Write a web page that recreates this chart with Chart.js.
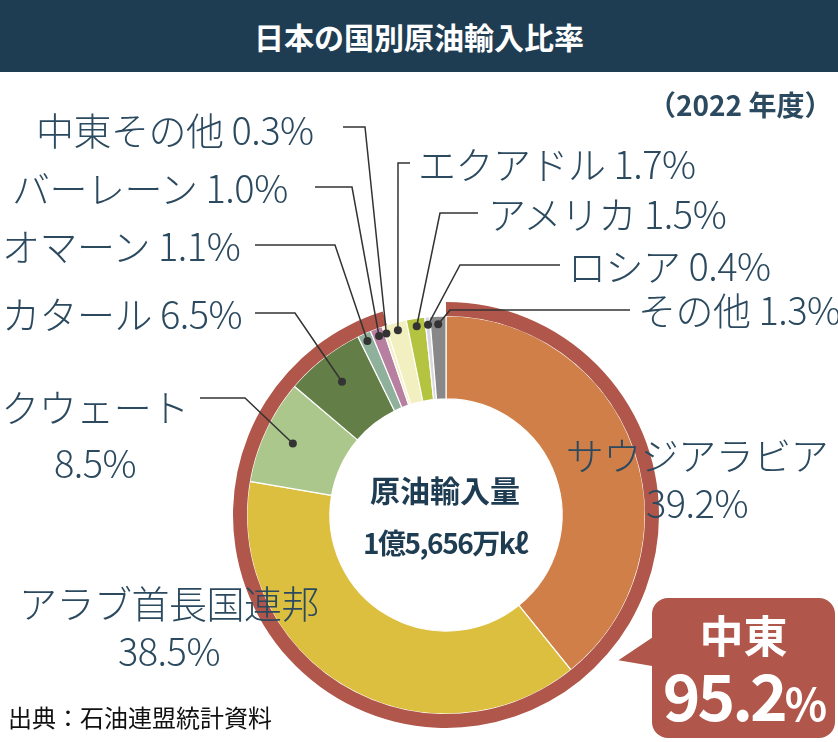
<!DOCTYPE html>
<html><head><meta charset="utf-8">
<script src="https://cdn.jsdelivr.net/npm/chart.js@4/dist/chart.umd.min.js"></script>
<style>
body{margin:0;width:838px;height:742px;position:relative;background:#fff;font-family:"Noto Sans CJK JP","Noto Sans",sans-serif;overflow:hidden}
#c{position:absolute;left:0;top:0}
.t{position:absolute;color:#2b4a5f;font-size:38px;font-weight:300;white-space:nowrap;line-height:1;letter-spacing:-0.5px}
#title{position:absolute;left:0;top:0;width:838px;height:72px;background:#1f3d52;color:#fff;font-weight:700;font-size:30px;text-align:center;line-height:72px}
#call{position:absolute;left:652px;top:598px;width:183px;height:140px;background:#b0564a;border-radius:16px;color:#fff;text-align:center;font-weight:700}
#tail{position:absolute;left:618px;top:640px;width:0;height:0;border-top:16px solid transparent;border-bottom:16px solid transparent;border-right:40px solid #b0564a;transform:rotate(-12deg)}
</style></head><body>
<canvas id="c" width="838" height="742"></canvas>
<div id="title">日本の国別原油輸入比率</div>
<div class="t" style="left:648px;top:90px;font-size:28px;font-weight:700;letter-spacing:0">（2022 年度）</div>
<div id="tail"></div>
<div id="call"><div style="font-size:44px;margin-top:10px;line-height:52px">中東</div><div style="font-size:64px;line-height:66px;letter-spacing:-3px">95.2<span style="font-size:44px">%</span></div></div>
<div class="t" style="left:350px;top:474px;font-size:30px;font-weight:700;color:#1f3d52;width:190px;text-align:center;letter-spacing:0">原油輸入量</div>
<div class="t" style="left:330px;top:528px;font-size:28px;font-weight:700;color:#1f3d52;width:230px;text-align:center;letter-spacing:-1.5px">1億5,656万kℓ</div>
<div class="t" style="left:8px;top:705px;font-size:24px;color:#111;font-weight:400;letter-spacing:0">出典：石油連盟統計資料</div>
<div id="labels"></div>
<script>
const categories=["サウジアラビア","アラブ首長国連邦","クウェート","カタール","オマーン","バーレーン","中東その他","エクアドル","アメリカ","ロシア","その他"];
const values=[39.2,38.5,8.5,6.5,1.1,1.0,0.3,1.7,1.5,0.4,1.3];
const colors=["#d07f48","#dcbf3e","#abc78c","#637f47","#8fb09a","#b780a0","#f2efc0","#f2efc0","#b5c440","#d8d8e0","#888888"];
const middleEast=[95.2,4.8];
const labelText=["サウジアラビア\n39.2%","アラブ首長国連邦\n38.5%","クウェート\n8.5%","カタール 6.5%","オマーン 1.1%","バーレーン 1.0%","中東その他 0.3%","エクアドル 1.7%","アメリカ 1.5%","ロシア 0.4%","その他 1.3%"];
const lpos=[[556,430,'c',null],[6,578,'c',null],[0,378,'c2',200,398,245],[2,294,'l',255,313,295],[2,226,'l',255,245,335],[12,168,'l',315,187,352],[36,110,'l',343,127,365],[418,144,'l',410,163,398],[488,194,'l',478,213,440],[568,246,'l',560,265,460],[638,290,'l',630,310,450]];
const L=document.getElementById('labels');
labelText.forEach((s,i)=>{const p=lpos[i];const d=document.createElement('div');d.className='t';d.style.left=p[0]+'px';d.style.top=p[1]+'px';
 const parts=s.split('\n');
 if(parts.length>1){d.style.textAlign='center';d.style.lineHeight='48px';d.innerHTML=parts.join('<br>');}
 else d.textContent=s;
 if(i==0){d.style.width='282px';} if(i==1){d.style.width='326px';} if(i==2){d.style.width='190px';d.style.lineHeight='56px';}
 L.appendChild(d);});
const leader={id:'leader',afterDraw(ch){const c=ch.ctx;const meta=ch.getDatasetMeta(1);c.save();c.strokeStyle='#333';c.fillStyle='#333';c.lineWidth=1.5;
 meta.data.forEach((el,i)=>{const p=lpos[i];if(p[3]==null)return;const a=(el.startAngle+el.endAngle)/2;const r=el.outerRadius-(i<=3?30:8);
 const x=el.x+Math.cos(a)*r,y=el.y+Math.sin(a)*r;c.beginPath();c.moveTo(p[3],p[4]);c.lineTo(p[5],p[4]);c.lineTo(x,y);c.stroke();c.beginPath();c.arc(x,y,4,0,Math.PI*2);c.fill();});c.restore();}};
new Chart(document.getElementById('c'),{type:'doughnut',data:{labels:categories,datasets:[
 {data:middleEast,backgroundColor:['#b0564a','rgba(0,0,0,0)'],borderWidth:0,weight:14},
 {data:values,backgroundColor:colors,borderColor:'#fff',borderWidth:1.2,weight:83}]},
 options:{responsive:false,animation:false,cutout:'54.5%',layout:{padding:{left:233,right:179,top:302,bottom:14}},plugins:{legend:{display:false},tooltip:{enabled:false}}},plugins:[leader]});
</script></body></html>
